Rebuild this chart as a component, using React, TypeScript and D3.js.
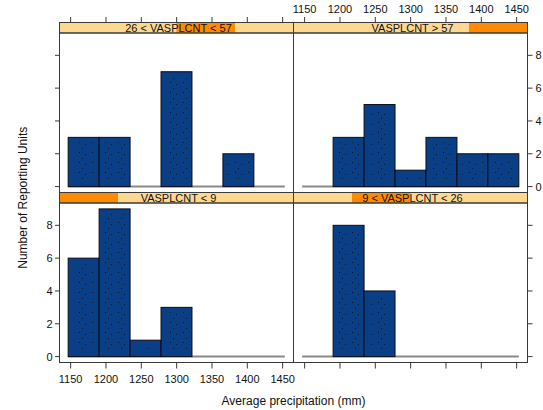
import React from 'react';
import * as d3 from 'd3';

// bin edges of precipitation (mm)
const breaks = [1146.5, 1190.3, 1234.1, 1277.9, 1321.7, 1365.5, 1409.3, 1453.1];

// shingle levels, in lattice order (bottom-left first)
const levels = ['VASPLCNT < 9', '9 < VASPLCNT < 26', '26 < VASPLCNT < 57', 'VASPLCNT > 57'];
const countsLevel1 = [6, 9, 1, 3, 0, 0, 0];
const countsLevel2 = [0, 8, 4, 0, 0, 0, 0];
const countsLevel3 = [3, 3, 0, 7, 0, 2, 0];
const countsLevel4 = [0, 3, 5, 1, 3, 2, 2];
const allCounts = [countsLevel1, countsLevel2, countsLevel3, countsLevel4];

const xTicks = [1150, 1200, 1250, 1300, 1350, 1400, 1450];
const yTicks = [0, 2, 4, 6, 8];

const W = 543;
const H = 410;
const left = 59.5;
const top = 22.5;
const panelW = 234;
const panelH = 159.5;
const stripH = 10.5;
const font = '"Liberation Sans", Arial, sans-serif';
const barFill = '#0a3f86';
const stripBg = '#ffd890';
const stripOn = '#ff8a00';
const lineCol = '#3a3a3a';

function Panel({ col, row, idx }: { col: number; row: number; idx: number }) {
  const counts = allCounts[idx];
  const x0 = left + col * panelW;
  const y0 = top + row * (panelH + stripH);
  const span = breaks[breaks.length - 1] - breaks[0];
  const x = d3.scaleLinear()
    .domain([breaks[0] - span * 0.04, breaks[breaks.length - 1] + span * 0.04])
    .range([x0, x0 + panelW]);
  const y = d3.scaleLinear()
    .domain([-9 * 0.04, 9 * 1.04])
    .range([y0 + stripH + panelH, y0 + stripH]);
  const strip = d3.scaleLinear().domain([0, levels.length]).range([x0, x0 + panelW]);
  const bottomY = y0 + stripH + panelH;

  return (
    <g>
      {/* strip */}
      <rect x={x0} y={y0} width={panelW} height={stripH} fill={stripBg} />
      <rect x={strip(idx)} y={y0} width={strip(idx + 1) - strip(idx)} height={stripH} fill={stripOn} />
      <rect x={x0} y={y0} width={panelW} height={stripH} fill="none" stroke={lineCol} strokeWidth={1} />
      <text x={x0 + panelW / 2 + 2} y={y0 + stripH / 2 + 4} textAnchor="middle" fontSize={11} fontFamily={font} fill="#111">
        {levels[idx]}
      </text>
      {/* baseline of histogram */}
      <line x1={x(breaks[0])} x2={x(breaks[breaks.length - 1])} y1={y(0)} y2={y(0)} stroke="#8a8a8a" strokeWidth={2} />
      {counts.map((c, i) =>
        c > 0 ? (
          <g key={i}>
            <rect x={x(breaks[i])} y={y(c)} width={x(breaks[i + 1]) - x(breaks[i])} height={y(0) - y(c)}
              fill={barFill} stroke="#0b0b1a" strokeWidth={1} />
            <rect x={x(breaks[i]) + 5} y={y(c) + 5} width={x(breaks[i + 1]) - x(breaks[i]) - 10}
              height={Math.max(0, y(0) - y(c) - 10)} fill="url(#dots)" />
          </g>
        ) : null
      )}
      <rect x={x0} y={y0 + stripH} width={panelW} height={panelH} fill="none" stroke={lineCol} strokeWidth={1} />

      {/* top ticks */}
      {row === 0 && xTicks.map(t => (
        <g key={'t' + t}>
          <line x1={x(t)} x2={x(t)} y1={y0} y2={y0 - 5.5} stroke={lineCol} />
          {col === 1 && (
            <text x={x(t)} y={y0 - 9.5} textAnchor="middle" fontSize={11} fontFamily={font} fill="#111">{t}</text>
          )}
        </g>
      ))}
      {/* bottom ticks */}
      {row === 1 && xTicks.map(t => (
        <g key={'b' + t}>
          <line x1={x(t)} x2={x(t)} y1={bottomY} y2={bottomY + 6} stroke={lineCol} />
          {col === 0 && (
            <text x={x(t)} y={bottomY + 20.5} textAnchor="middle" fontSize={11} fontFamily={font} fill="#111">{t}</text>
          )}
        </g>
      ))}
      {/* left ticks */}
      {col === 0 && yTicks.map(t => (
        <g key={'l' + t}>
          <line x1={x0} x2={x0 - 4.5} y1={y(t)} y2={y(t)} stroke={lineCol} />
          {row === 1 && (
            <text x={x0 - 10} y={y(t) + 4} textAnchor="middle" fontSize={11} fontFamily={font} fill="#111">{t}</text>
          )}
        </g>
      ))}
      {/* right ticks */}
      {col === 1 && yTicks.map(t => (
        <g key={'r' + t}>
          <line x1={x0 + panelW} x2={x0 + panelW + 5} y1={y(t)} y2={y(t)} stroke={lineCol} />
          {row === 0 && (
            <text x={x0 + panelW + 11} y={y(t) + 4} textAnchor="middle" fontSize={11} fontFamily={font} fill="#111">{t}</text>
          )}
        </g>
      ))}
    </g>
  );
}

export default function App() {
  return (
    <svg width={W} height={H} style={{ position: 'absolute', left: 0, top: 0, background: '#fff' }}>
      <defs>
        <pattern id="dots" width="13" height="10" patternUnits="userSpaceOnUse">
          <rect x="1" y="2" width="1" height="1" fill="#000" opacity="0.7" />
          <rect x="7" y="4" width="1" height="1" fill="#000" opacity="0.6" />
          <rect x="4" y="8" width="1" height="1" fill="#000" opacity="0.6" />
        </pattern>
      </defs>
      <Panel col={0} row={1} idx={0} />
      <Panel col={1} row={1} idx={1} />
      <Panel col={0} row={0} idx={2} />
      <Panel col={1} row={0} idx={3} />
      <text x={left + panelW} y={405} textAnchor="middle" fontSize={12} fontFamily={font} fill="#111">
        Average precipitation (mm)
      </text>
      <text transform={`translate(27,${top + stripH + panelH + stripH / 2}) rotate(-90)`} textAnchor="middle"
        fontSize={12} fontFamily={font} fill="#111">
        Number of Reporting Units
      </text>
    </svg>
  );
}
